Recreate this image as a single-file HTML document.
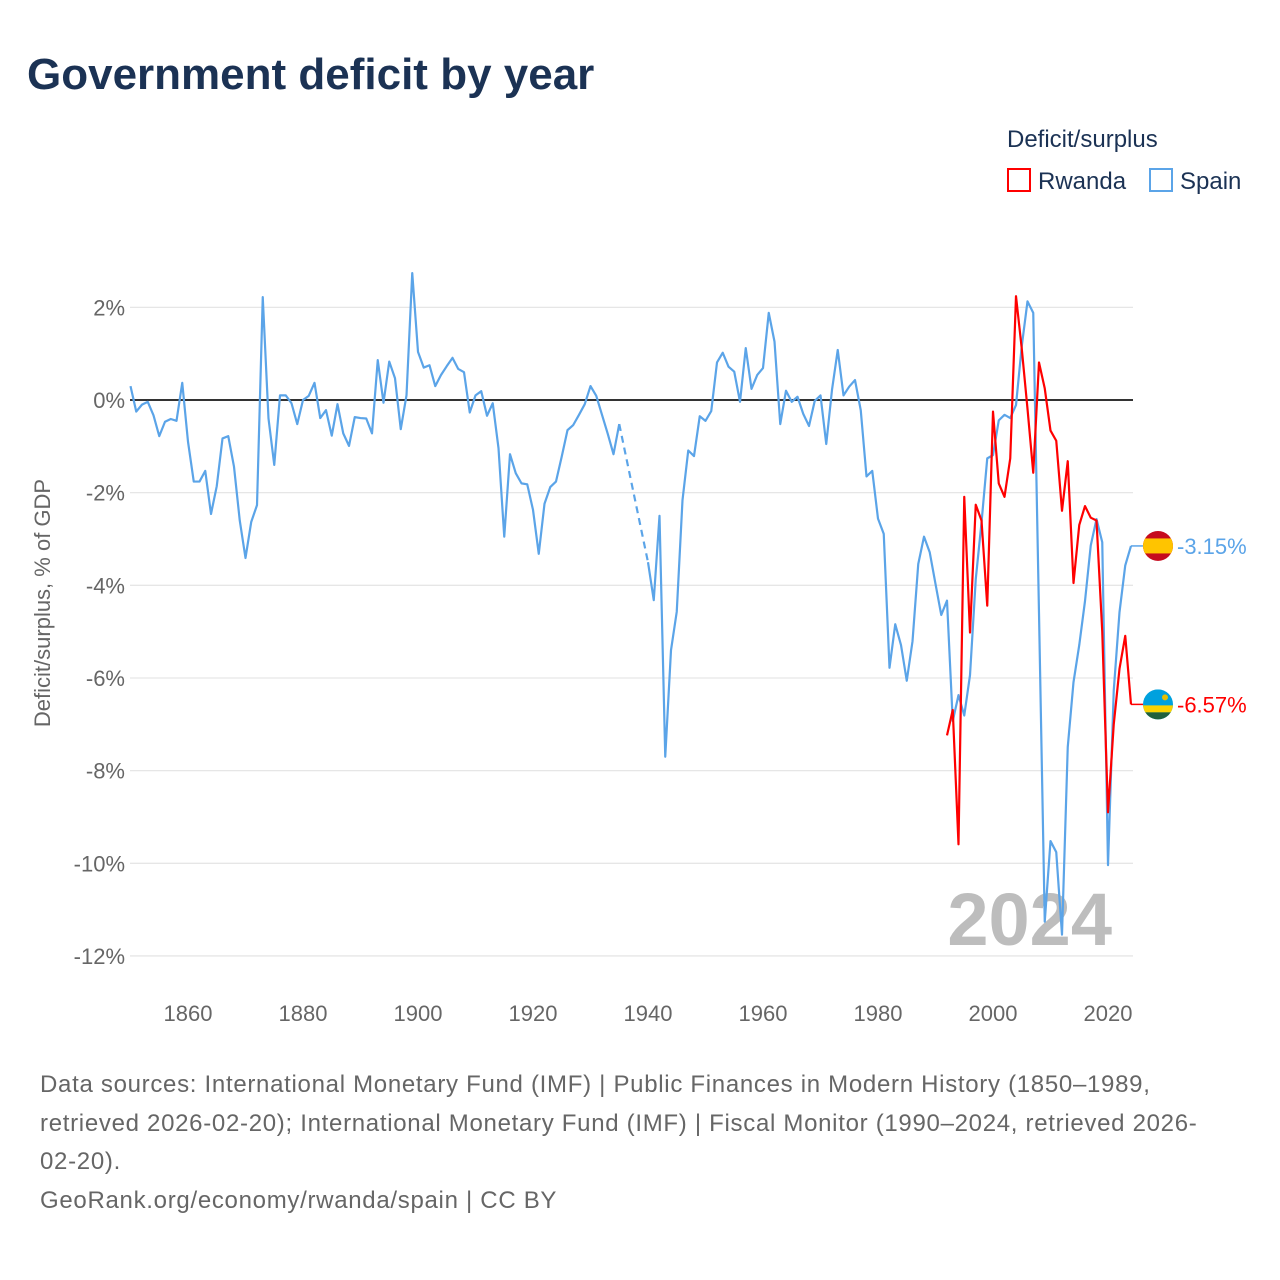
<!DOCTYPE html>
<html><head><meta charset="utf-8">
<style>
body{margin:0;background:#fff;font-family:"Liberation Sans",sans-serif;}
#wrap{position:relative;width:1280px;height:1280px;overflow:hidden;}
h1{position:absolute;left:27px;top:50px;margin:0;font-size:44px;font-weight:bold;color:#1b3254;letter-spacing:0px;}
.foot{position:absolute;left:40px;top:1066px;width:1230px;font-size:24px;line-height:38.7px;color:#666;white-space:nowrap;letter-spacing:0.7px;}
</style></head><body>
<div id="wrap">
<h1>Government deficit by year</h1>
<svg id="chart" width="1280" height="1280" style="position:absolute;left:0;top:0"></svg>
<div class="foot">Data sources: International Monetary Fund (IMF) | Public Finances in Modern History (1850–1989,<br>retrieved 2026-02-20); International Monetary Fund (IMF) | Fiscal Monitor (1990–2024, retrieved 2026-<br>02-20).<br>GeoRank.org/economy/rwanda/spain | CC BY</div>
</div>
<script>
const spainStart = 1850;
const spainValues = [0.3,-0.25,-0.1,-0.04,-0.33,-0.78,-0.47,-0.41,-0.45,0.37,
-0.9,-1.76,-1.76,-1.53,-2.46,-1.86,-0.83,-0.78,-1.44,-2.6,
-3.41,-2.63,-2.27,2.22,-0.4,-1.4,0.1,0.1,-0.07,-0.52,
0,0.09,0.37,-0.39,-0.22,-0.77,-0.09,-0.72,-0.99,-0.37,
-0.39,-0.4,-0.72,0.86,-0.06,0.83,0.47,-0.63,0.1,2.74,
1.04,0.7,0.75,0.3,0.54,0.73,0.91,0.67,0.6,-0.27,
0.1,0.19,-0.34,-0.07,-1.04,-2.95,-1.17,-1.58,-1.8,-1.82,
-2.37,-3.32,-2.24,-1.88,-1.76,-1.22,-0.65,-0.54,-0.32,-0.09,
0.3,0.09,-0.32,-0.73,-1.17,-0.52,null,null,null,null,
-3.5,-4.32,-2.5,-7.7,-5.4,-4.57,-2.16,-1.09,-1.21,-0.35,
-0.45,-0.24,0.81,1.02,0.72,0.61,-0.04,1.12,0.24,0.54,
0.69,1.88,1.26,-0.52,0.2,-0.04,0.07,-0.3,-0.56,-0.02,
0.1,-0.95,0.22,1.08,0.1,0.29,0.43,-0.22,-1.65,-1.53,
-2.56,-2.89,-5.78,-4.84,-5.29,-6.06,-5.21,-3.54,-2.95,-3.29,
-3.97,-4.64,-4.33,-6.93,-6.37,-6.81,-5.94,-3.87,-2.65,-1.26,
-1.19,-0.44,-0.32,-0.39,-0.11,1.16,2.13,1.88,-4.6,-11.26,
-9.52,-9.76,-11.54,-7.49,-6.09,-5.29,-4.34,-3.14,-2.57,-3.07,
-10.04,-6.27,-4.58,-3.57,-3.15];
const rwandaStart = 1992;
const rwandaValues = [-7.24,-6.69,-9.59,-2.09,-5.02,-2.26,-2.6,-4.44,-0.25,-1.8,
-2.09,-1.26,2.24,1.11,-0.19,-1.57,0.81,0.25,-0.66,-0.88,
-2.39,-1.32,-3.95,-2.7,-2.29,-2.54,-2.6,-5.0,-8.9,-7.0,
-5.8,-5.09,-6.57];
const yTicks = [2,0,-2,-4,-6,-8,-10,-12];
const xTicks = [1860,1880,1900,1920,1940,1960,1980,2000,2020];

const svg = document.getElementById('chart');
const NS = 'http://www.w3.org/2000/svg';
const X = yr => 130.5 + (yr - 1850) * 5.75;
const Y = v => 400 - v * 46.33;
function mk(tag, attrs, parent){const e=document.createElementNS(NS,tag);for(const k in attrs)e.setAttribute(k,attrs[k]);(parent||svg).appendChild(e);return e;}

yTicks.forEach(t=>{
  const g=mk('line',{x1:130,x2:1133,y1:Y(t),y2:Y(t),stroke:t===0?'#333':'#e6e6e6','stroke-width':t===0?2:1.3});
  
  
  const lb=mk('text',{x:125,y:Y(t)+8,'text-anchor':'end','font-size':22,fill:'#666'});
  lb.textContent=t+'%';
  
  
});
xTicks.forEach(t=>{
  const lb=mk('text',{x:X(t),y:1021,'text-anchor':'middle','font-size':22,fill:'#666'});
  lb.textContent=t;
  
  
});
const yt=mk('text',{x:0,y:0,transform:'translate(50,603) rotate(-90)','text-anchor':'middle','font-size':22,fill:'#666'});
yt.textContent='Deficit/surplus, % of GDP';



const wm=mk('text',{x:1112,y:945,'text-anchor':'end','font-size':74,'font-weight':'bold',fill:'#bdbdbd'});
wm.textContent='2024';



function drawSeries(start, vals, color, name){
  let segs=[], cur=[];
  vals.forEach((v,i)=>{ if(v===null){ if(cur.length)segs.push(cur); cur=[]; } else cur.push([X(start+i),Y(v)]); });
  if(cur.length)segs.push(cur);
  segs.forEach((s,k)=>{
    const p=mk('polyline',{points:s.map(q=>q.join(',')).join(' '),fill:'none',stroke:color,'stroke-width':2.2,'stroke-linejoin':'round'});
    
    
    if(k>0){const a=segs[k-1][segs[k-1].length-1], b=s[0];
      const d=mk('line',{x1:a[0],y1:a[1],x2:b[0],y2:b[1],stroke:color,'stroke-width':2.2,'stroke-dasharray':'7,5'});
      
      }
  });
  const lastV=vals[vals.length-1], lx=X(start+vals.length-1);
  const ex=mk('line',{x1:lx,y1:Y(lastV),x2:1143,y2:Y(lastV),stroke:color,'stroke-width':1.5});
  
  
  const lab=mk('text',{x:1177,y:Y(lastV)+8,'font-size':22,fill:color});
  lab.textContent=lastV.toFixed(2)+'%';
  
  
  return Y(lastV);
}
const ys=drawSeries(spainStart, spainValues, '#5ba4e8', 'spain');
const yr=drawSeries(rwandaStart, rwandaValues, '#f00', 'rwanda');

const fs=mk('g',{});


mk('clipPath',{id:'cs'},fs); mk('circle',{cx:1158,cy:ys,r:15},fs.lastChild);
mk('rect',{x:1143,y:ys-15,width:30,height:30,fill:'#c60b1e','clip-path':'url(#cs)'},fs);
mk('rect',{x:1143,y:ys-7.5,width:30,height:15,fill:'#ffc400','clip-path':'url(#cs)'},fs);
const fr=mk('g',{});


mk('clipPath',{id:'cr'},fr); mk('circle',{cx:1158,cy:yr,r:15},fr.lastChild);
mk('rect',{x:1143,y:yr-15,width:30,height:30,fill:'#00a1de','clip-path':'url(#cr)'},fr);
mk('rect',{x:1143,y:yr+1,width:30,height:7,fill:'#fad201','clip-path':'url(#cr)'},fr);
mk('rect',{x:1143,y:yr+8,width:30,height:8,fill:'#20603d','clip-path':'url(#cr)'},fr);
mk('circle',{cx:1165,cy:yr-7,r:3,fill:'#e5be01'},fr);

const lt=mk('text',{x:1007,y:147,'font-size':24,fill:'#1b3254'});
lt.textContent='Deficit/surplus';


[['Rwanda','#f00',1007],['Spain','#5ba4e8',1149]].forEach(([n,c,x])=>{
  const g=mk('g',{});
  
  
  mk('rect',{x:x+1,y:169,width:22,height:22,fill:'none',stroke:c,'stroke-width':2},g);
  const t=mk('text',{x:x+31,y:189,'font-size':24,fill:'#1b3254'},g);
  t.textContent=n;
});
</script>
</body></html>
